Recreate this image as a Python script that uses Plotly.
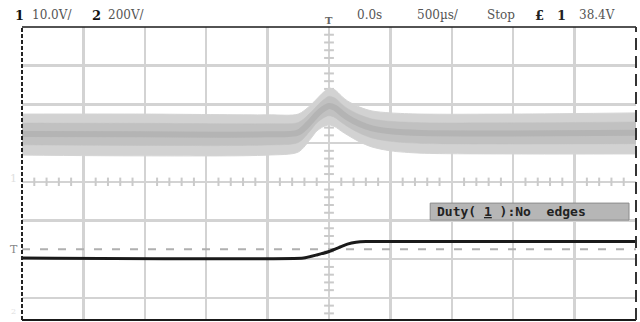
import plotly.graph_objects as go

# ---------------- data (time in µs, amplitude in screen divisions) ----------------
ch1_time = [-2500, -1500, -500, -250, -150, -100, -50, 0, 50, 100, 150, 250, 350, 500, 750, 1500, 2500]
ch1_upper = [1.75, 1.75, 1.73, 1.75, 1.98, 2.14, 2.30, 2.42, 2.37, 2.22, 2.09, 1.93, 1.83, 1.78, 1.75, 1.75, 1.78]
ch1_lower = [0.69, 0.67, 0.69, 0.77, 1.11, 1.31, 1.42, 1.47, 1.42, 1.31, 1.21, 1.03, 0.90, 0.80, 0.74, 0.72, 0.72]

ch2_time = [-2500, -207, -100, 0, 80, 150, 220, 300, 2500]
ch2_level = [-1.97, -1.97, -1.89, -1.80, -1.70, -1.61, -1.56, -1.54, -1.54]

trigger_level = -1.74

header_left = [("1", True), ("10.0V/", False), ("2", True), ("200V/", False)]
header_right = ["0.0s", "500µs/", "Stop", "£", "1", "38.4V"]
duty_text = "Duty( <span style='text-decoration:underline'>1</span> ):No  edges"

# ---------------- geometry ----------------
W, H = 640, 322
ML, MR, MT, MB = 22, 4, 27, 2
PW, PH = W - ML - MR, H - MT - MB
X0, X1 = -2500, 2500
YTOP = 4.0
DIV_PX = 38.7
YBOT = YTOP - PH / DIV_PX


def px_x(px):
    return (px - ML) / PW


def px_y(py):
    return (H - MB - py) / PH


fig = go.Figure()

# centre-line tick marks
tx = [t for t in range(-2400, 2500, 100) if t % 500 != 0]
fig.add_trace(go.Scatter(x=tx, y=[0] * len(tx), mode="markers", hoverinfo="skip",
                         marker=dict(symbol="line-ns", size=6, line=dict(width=2, color="#cacaca")),
                         showlegend=False))
ty = [k / 5 for k in range(-18, 20) if k % 5 != 0]
fig.add_trace(go.Scatter(x=[0] * len(ty), y=ty, mode="markers", hoverinfo="skip",
                         marker=dict(symbol="line-ew", size=7, line=dict(width=2, color="#cacaca")),
                         showlegend=False))

# channel 1: noisy band (outer envelope)
band_line = dict(width=1, color="#d4d4d4", shape="spline", smoothing=0.8)
fig.add_trace(go.Scatter(x=ch1_time, y=ch1_upper, mode="lines", line=band_line,
                         showlegend=False, hoverinfo="skip"))
fig.add_trace(go.Scatter(x=ch1_time, y=ch1_lower, mode="lines", line=band_line,
                         fill="tonexty", fillcolor="#d2d2d2", showlegend=False, hoverinfo="skip"))
# darker core of the band
core_u = [u - 0.22 * (u - l) for u, l in zip(ch1_upper, ch1_lower)]
core_l = [l + 0.25 * (u - l) for u, l in zip(ch1_upper, ch1_lower)]
core_line = dict(width=0.5, color="#c0c0c0", shape="spline", smoothing=0.8)
fig.add_trace(go.Scatter(x=ch1_time, y=core_u, mode="lines", line=core_line,
                         showlegend=False, hoverinfo="skip"))
fig.add_trace(go.Scatter(x=ch1_time, y=core_l, mode="lines", line=core_line,
                         fill="tonexty", fillcolor="#c1c1c1", showlegend=False, hoverinfo="skip"))
mid = [(u + l) / 2 for u, l in zip(core_u, core_l)]
fig.add_trace(go.Scatter(x=ch1_time, y=mid, mode="lines",
                         line=dict(width=6, color="#b4b4b4", shape="spline", smoothing=0.8),
                         showlegend=False, hoverinfo="skip"))

# trigger level dashed line
fig.add_trace(go.Scatter(x=[X0, X1], y=[trigger_level, trigger_level], mode="lines",
                         line=dict(width=2, color="#b0b0b0", dash="8px,10px"),
                         showlegend=False, hoverinfo="skip"))

# channel 2: black step
fig.add_trace(go.Scatter(x=ch2_time, y=ch2_level, mode="lines",
                         line=dict(width=3, color="#1a1a1a", shape="spline", smoothing=0.4),
                         showlegend=False, hoverinfo="skip"))

fig.update_layout(
    width=W, height=H,
    margin=dict(l=ML, r=MR, t=MT, b=MB),
    paper_bgcolor="white", plot_bgcolor="white",
    xaxis=dict(range=[X0, X1], tick0=0, dtick=500, showgrid=True, gridcolor="#d3d3d3", gridwidth=2.5,
               zeroline=False, showticklabels=False, ticks="", fixedrange=True),
    yaxis=dict(range=[YBOT, YTOP], tick0=0, dtick=1, showgrid=True, gridcolor="#d3d3d3", gridwidth=2.5,
               zeroline=False, showticklabels=False, ticks="", fixedrange=True),
    showlegend=False,
    hovermode=False,
)

shapes = [
    dict(type="line", xref="paper", yref="paper", x0=0, x1=1, y0=1, y1=1, line=dict(color="#1a1a1a", width=1.5)),
    dict(type="line", xref="paper", yref="paper", x0=0, x1=1, y0=0, y1=0, line=dict(color="#1a1a1a", width=2)),
    dict(type="line", xref="paper", yref="paper", x0=0, x1=0, y0=0, y1=1,
         line=dict(color="#222222", width=2, dash="4px,2px")),
    dict(type="line", xref="paper", yref="paper", x0=1, x1=1, y0=0, y1=1,
         line=dict(color="#333333", width=2, dash="12px,6px")),
    dict(type="rect", xref="x", yref="y", x0=824, x1=2443, y0=-0.99, y1=-0.55,
         fillcolor="#b6b6b6", line=dict(color="#8c8c8c", width=1), layer="above"),
]
fig.update_layout(shapes=shapes)

ann = []
serif = "DejaVu Serif"
# header left
lx = [13, 30, 90, 106]
for (txt, bold), x in zip(header_left, lx):
    ann.append(dict(x=px_x(x), y=px_y(15), xref="paper", yref="paper", xanchor="left", yanchor="middle",
                    text=f"<b>{txt}</b>" if bold else txt, showarrow=False,
                    font=dict(family=serif, size=13 if bold else 12, color="#111" if bold else "#555")))
# trigger position marker
ann.append(dict(x=px_x(329), y=px_y(20), xref="paper", yref="paper", xanchor="center", yanchor="middle",
                text="<b>T</b>", showarrow=False, font=dict(family=serif, size=10, color="#666")))
rx = [355, 415, 485, 533, 555, 577]
for txt, x in zip(header_right, rx):
    bold = txt in ("1", "£")
    ann.append(dict(x=px_x(x), y=px_y(15), xref="paper", yref="paper", xanchor="left", yanchor="middle",
                    text=f"<b>{txt}</b>" if bold else txt, showarrow=False,
                    font=dict(family=serif, size=13 if bold else 12, color="#222" if bold else "#555")))
# left channel markers
ann.append(dict(x=px_x(14), y=trigger_level, xref="paper", yref="y", xanchor="center", yanchor="middle",
                text="T", showarrow=False, font=dict(family=serif, size=11, color="#888")))
ann.append(dict(x=px_x(13), y=px_y(178), xref="paper", yref="paper", xanchor="center", yanchor="middle",
                text="1", showarrow=False, font=dict(family=serif, size=11, color="#e0e0e0")))
ann.append(dict(x=px_x(13), y=px_y(311), xref="paper", yref="paper", xanchor="center", yanchor="middle",
                text="2", showarrow=False, font=dict(family=serif, size=8, color="#e0e0e0")))
# duty readout
ann.append(dict(x=860, y=-0.77, xref="x", yref="y", xanchor="left", yanchor="middle",
                text=f"<b>{duty_text}</b>", showarrow=False,
                font=dict(family="DejaVu Sans Mono", size=13, color="#222")))
fig.update_layout(annotations=ann)

fig.write_html("out.html", config={"displayModeBar": False, "staticPlot": True},
               post_script="document.body.style.margin='0px';document.body.style.overflow='hidden';")
